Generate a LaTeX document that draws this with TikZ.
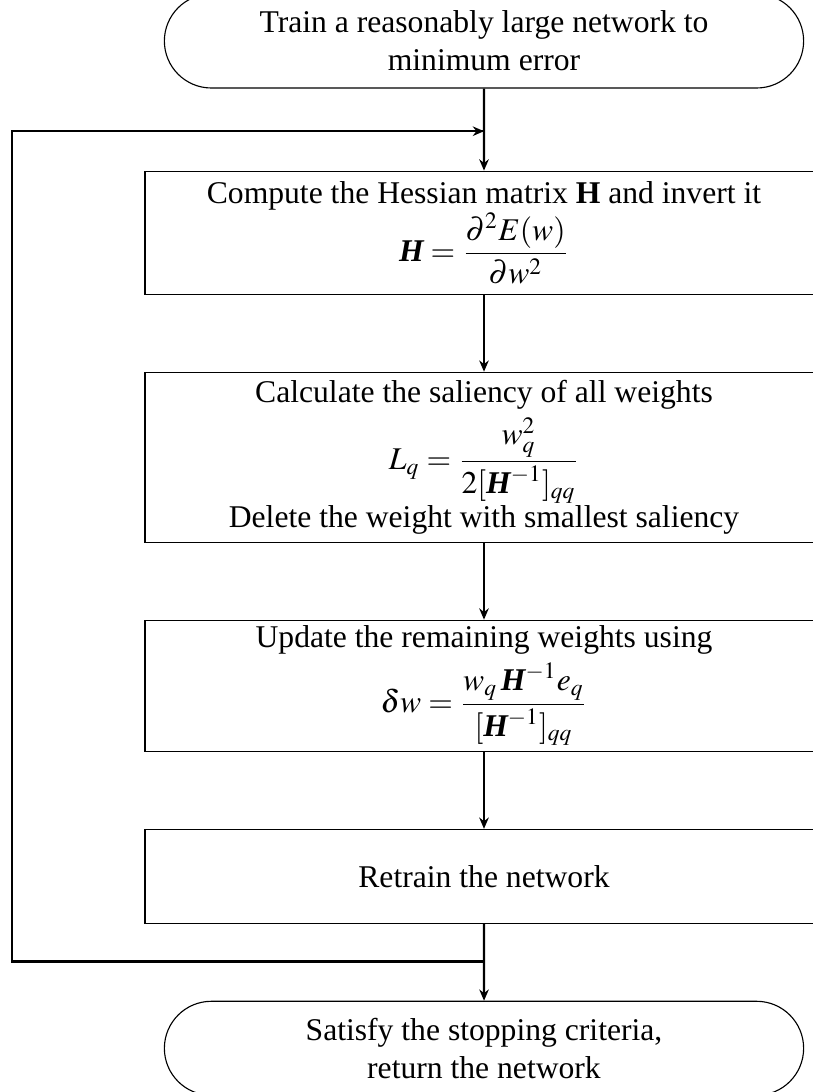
\documentclass[tikz,border=0pt]{standalone}
\usepackage{amsmath}
\usepackage{mathptmx}
\usepackage{fontspec}
\setmainfont{Liberation Serif}
\usetikzlibrary{positioning,arrows.meta,shapes.misc,calc}
\newcommand{\Hmat}{\text{\bfseries\itshape H}}
\tikzset{
  box/.style={draw, thin, align=center, font=\fontsize{11.25}{13.6}\selectfont,
              minimum width=84.75mm, inner sep=2pt},
  term/.style={draw, thin, rounded rectangle, align=center,
               font=\fontsize{11.25}{13.6}\selectfont,
               minimum width=82.25mm, minimum height=11.75mm},
  arr/.style={-{Stealth[length=4pt,width=3.4pt]}, thick},
  back/.style={thick},
}
\begin{document}
\begin{tikzpicture}[node distance=9.6mm]
  \useasboundingbox (0,0) rectangle (10.1625,-13.65);
  \node[term] (start) at (6.05,-0.5125) {Train a reasonably large network to\\minimum error};
  \node[box, minimum height=15.4mm, below=10.25mm of start] (hess)
    {Compute the Hessian matrix \textbf{H} and invert it\\
     $\displaystyle \Hmat=\frac{\partial^2E(w)}{\partial w^2}$};
  \node[box, minimum height=21.25mm, below=of hess] (sal)
    {Calculate the saliency of all weights\\[2pt]
     $\displaystyle L_q=\frac{w_q^2}{2[\Hmat^{-1}]_{qq}}$\\
     Delete the weight with smallest saliency};
  \node[box, minimum height=16.4mm, below=of sal] (upd)
    {Update the remaining weights using\\[2pt]
     $\displaystyle \delta w=\frac{w_q\,\Hmat^{-1}e_q}{[\Hmat^{-1}]_{qq}}$};
  \node[box, minimum height=11.75mm, below=of upd] (retrain) {Retrain the network};
  \node[term, below=of retrain] (stop) {Satisfy the stopping criteria,\\return the network};
  \coordinate (entry) at ($(start.south)!0.52!(hess.north)$);
  \coordinate (join) at ($(retrain.south)!0.49!(stop.north)$);
  \coordinate (side) at (0.15,0);
  \draw[arr] (start) -- (hess);
  \draw[arr] (hess) -- (sal);
  \draw[arr] (sal) -- (upd);
  \draw[arr] (upd) -- (retrain);
  \draw[arr] (retrain) -- (stop);
  \draw[back] (join) -- (join -| side) |- (entry);
  \draw[arr] (entry -| side) -- (entry);
\end{tikzpicture}
\end{document}
